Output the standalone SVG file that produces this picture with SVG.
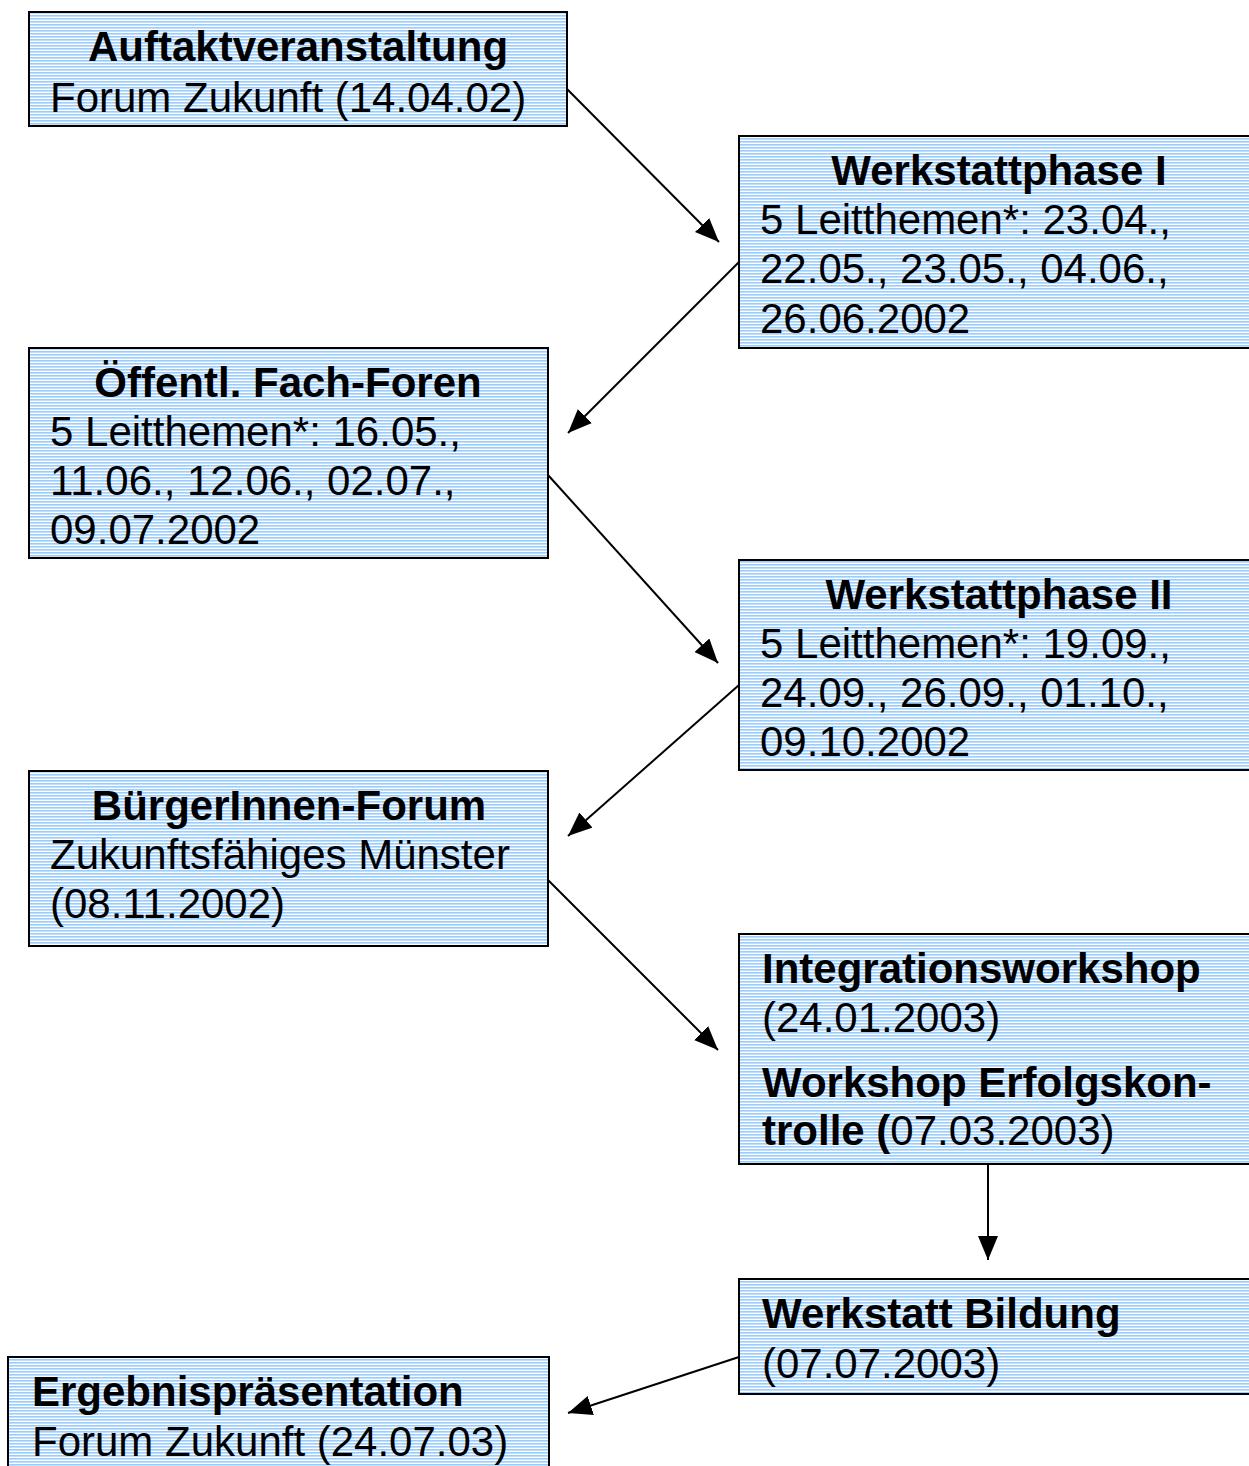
<svg xmlns="http://www.w3.org/2000/svg" width="1249" height="1466" viewBox="0 0 1249 1466">
<defs>
<pattern id="stripes" patternUnits="userSpaceOnUse" width="8" height="3">
<rect x="0" y="0" width="8" height="3" fill="#ffffff"/>
<rect x="0" y="0" width="8" height="1.6" fill="#99ccff"/>
</pattern>
<marker id="arr" markerUnits="userSpaceOnUse" markerWidth="26" markerHeight="22" refX="24" refY="10" orient="auto">
<path d="M0,0 L24,10 L0,20 z" fill="#000"/>
</marker>
<style>
.box{fill:url(#stripes);stroke:#000;stroke-width:2}
.t{font-family:"Liberation Sans",Arial,sans-serif;font-size:42px;fill:#000}
.b{font-weight:bold}
.c{text-anchor:middle}
.edge{stroke:#000;stroke-width:2;fill:none;marker-end:url(#arr)}
</style>
</defs>
<g id="connectors">
<line class="edge" x1="567" y1="89" x2="719" y2="242"/>
<line class="edge" x1="739" y1="262" x2="568" y2="433"/>
<line class="edge" x1="548" y1="475" x2="718" y2="663"/>
<line class="edge" x1="739" y1="685" x2="568" y2="836"/>
<line class="edge" x1="548" y1="880" x2="718" y2="1050"/>
<line class="edge" x1="988" y1="1164" x2="988" y2="1260"/>
<line class="edge" x1="739" y1="1357" x2="568" y2="1413"/>
</g>
<g id="n1">
<rect class="box" x="29" y="12" width="538" height="114"/>
<text class="t b c" x="298" y="61">Auftaktveranstaltung</text>
<text class="t" x="50" y="112">Forum Zukunft (14.04.02)</text>
</g>
<g id="n2">
<rect class="box" x="739" y="136" width="520" height="212"/>
<text class="t b c" x="999" y="185">Werkstattphase I</text>
<text class="t" x="760" y="234">5 Leitthemen*: 23.04.,</text>
<text class="t" x="760" y="283">22.05., 23.05., 04.06.,</text>
<text class="t" x="760" y="333">26.06.2002</text>
</g>
<g id="n3">
<rect class="box" x="29" y="348" width="519" height="210"/>
<text class="t b c" x="288" y="397">Öffentl. Fach-Foren</text>
<text class="t" x="50" y="446">5 Leitthemen*: 16.05.,</text>
<text class="t" x="50" y="495">11.06., 12.06., 02.07.,</text>
<text class="t" x="50" y="544">09.07.2002</text>
</g>
<g id="n4">
<rect class="box" x="739" y="560" width="520" height="210"/>
<text class="t b c" x="999" y="609">Werkstattphase II</text>
<text class="t" x="760" y="658">5 Leitthemen*: 19.09.,</text>
<text class="t" x="760" y="707">24.09., 26.09., 01.10.,</text>
<text class="t" x="760" y="756">09.10.2002</text>
</g>
<g id="n5">
<rect class="box" x="29" y="771" width="519" height="175"/>
<text class="t b c" x="289" y="820">BürgerInnen-Forum</text>
<text class="t" x="50" y="869">Zukunftsfähiges Münster</text>
<text class="t" x="50" y="918">(08.11.2002)</text>
</g>
<g id="n6">
<rect class="box" x="739" y="934" width="520" height="230"/>
<text class="t b" x="762" y="983">Integrationsworkshop</text>
<text class="t" x="762" y="1032">(24.01.2003)</text>
<text class="t b" x="762" y="1097">Workshop Erfolgskon-</text>
<text class="t" x="762" y="1145"><tspan class="b">trolle (</tspan>07.03.2003)</text>
</g>
<g id="n7">
<rect class="box" x="739" y="1279" width="520" height="115"/>
<text class="t b" x="762" y="1328">Werkstatt Bildung</text>
<text class="t" x="762" y="1378">(07.07.2003)</text>
</g>
<g id="n8">
<rect class="box" x="8" y="1357" width="541" height="120"/>
<text class="t b" x="32" y="1406">Ergebnispräsentation</text>
<text class="t" x="32" y="1456">Forum Zukunft (24.07.03)</text>
</g>
</svg>
